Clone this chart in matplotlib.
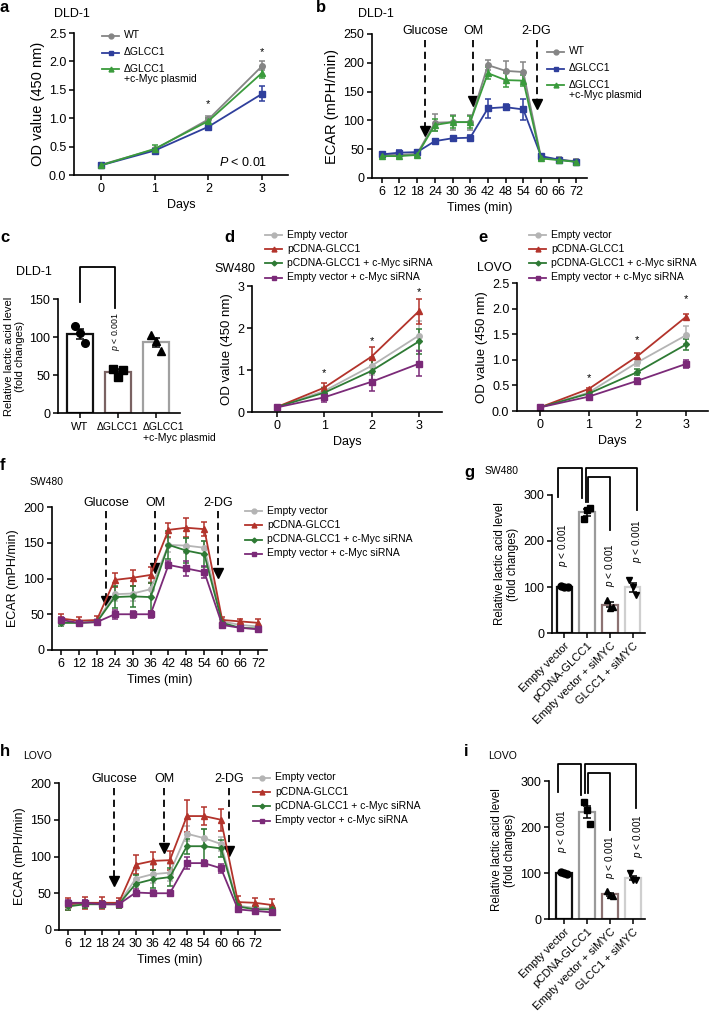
import numpy as np
import matplotlib
matplotlib.use('Agg')
import matplotlib.pyplot as plt

plt.rcParams['font.family'] = ['Liberation Sans', 'DejaVu Sans']
plt.rcParams['mathtext.fontset'] = 'custom'
plt.rcParams['mathtext.it'] = 'Liberation Sans:italic'
plt.rcParams['mathtext.rm'] = 'Liberation Sans'
plt.rcParams['font.size'] = 8

W, H = 710, 1014

# ---- panel a : DLD-1 growth
days = [0, 1, 2, 3]
a_wt = [0.18, 0.45, 0.98, 1.92]
a_wt_err = [0.03, 0.03, 0.05, 0.08]
a_ko = [0.17, 0.43, 0.85, 1.43]
a_ko_err = [0.03, 0.03, 0.04, 0.13]
a_myc = [0.17, 0.46, 0.95, 1.80]
a_myc_err = [0.04, 0.06, 0.06, 0.10]
a_labels = ['WT', '\u0394GLCC1', '\u0394GLCC1\n+c-Myc plasmid']

# ---- panel b : DLD-1 ECAR
b_time = [6, 12, 18, 24, 30, 36, 42, 48, 54, 60, 66, 72]
b_wt = [40, 40, 42, 96, 97, 97, 196, 186, 184, 36, 32, 29]
b_wt_err = [3, 3, 3, 15, 13, 13, 9, 17, 17, 4, 4, 4]
b_ko = [41, 44, 45, 64, 69, 70, 121, 123, 119, 38, 32, 28]
b_ko_err = [4, 4, 4, 3, 4, 4, 16, 5, 18, 3, 3, 3]
b_myc = [38, 38, 40, 92, 97, 97, 182, 170, 169, 34, 31, 28]
b_myc_err = [3, 3, 3, 10, 10, 10, 10, 12, 10, 3, 3, 3]

# ---- panel c : DLD-1 lactic acid
c_groups = ['WT', '\u0394GLCC1', '\u0394GLCC1\n+c-Myc plasmid']
c_pts = [[115, 105, 92], [58, 48, 57], [102, 95, 82]]

# ---- panels d, e : growth with siRNA
de_labels = ['Empty vector', 'pCDNA-GLCC1', 'pCDNA-GLCC1 + c-Myc siRNA',
             'Empty vector + c-Myc siRNA']
d_vals = [[0.12, 0.50, 1.10, 1.82], [0.12, 0.58, 1.32, 2.40],
          [0.12, 0.46, 0.98, 1.68], [0.11, 0.35, 0.72, 1.15]]
d_errs = [[0.02, 0.10, 0.22, 0.35], [0.02, 0.12, 0.22, 0.30],
          [0.02, 0.10, 0.25, 0.30], [0.02, 0.10, 0.22, 0.30]]
e_vals = [[0.07, 0.36, 0.95, 1.48], [0.07, 0.43, 1.07, 1.84],
          [0.07, 0.34, 0.76, 1.30], [0.07, 0.28, 0.59, 0.92]]
e_errs = [[0.01, 0.03, 0.08, 0.18], [0.01, 0.02, 0.06, 0.05],
          [0.01, 0.03, 0.06, 0.10], [0.01, 0.03, 0.05, 0.08]]

# ---- panel f : SW480 ECAR
f_time = [6, 12, 18, 24, 30, 36, 42, 48, 54, 60, 66, 72]
f_vals = [[38, 38, 40, 78, 79, 85, 147, 146, 143, 40, 35, 33],
          [44, 41, 42, 98, 101, 105, 168, 171, 169, 42, 40, 38],
          [38, 38, 39, 74, 75, 74, 147, 139, 134, 38, 31, 30],
          [42, 38, 39, 50, 50, 50, 119, 114, 109, 35, 31, 29]]
f_errs = [[4, 3, 3, 10, 10, 10, 10, 10, 10, 4, 3, 3],
          [6, 5, 5, 10, 11, 11, 10, 13, 10, 4, 4, 5],
          [4, 3, 3, 15, 15, 20, 20, 18, 18, 4, 3, 3],
          [4, 3, 3, 6, 5, 5, 5, 10, 8, 3, 3, 3]]

# ---- panel h : LOVO ECAR
h_time = [6, 12, 18, 24, 30, 36, 42, 48, 54, 60, 66, 72, 78]
h_ticks = [6, 12, 18, 24, 30, 36, 42, 48, 54, 60, 66, 72]
h_vals = [[33, 37, 36, 36, 70, 76, 78, 131, 125, 117, 33, 30, 29],
          [35, 37, 37, 37, 89, 94, 95, 155, 155, 150, 38, 37, 34],
          [32, 35, 35, 35, 63, 69, 72, 114, 114, 111, 32, 28, 28],
          [37, 37, 35, 35, 51, 50, 50, 91, 91, 84, 28, 26, 24]]
h_errs = [[4, 4, 4, 4, 12, 12, 12, 10, 12, 10, 4, 4, 4],
          [8, 8, 8, 7, 13, 12, 13, 22, 12, 15, 8, 7, 8],
          [5, 5, 5, 5, 12, 12, 12, 10, 23, 12, 4, 4, 4],
          [4, 4, 4, 4, 5, 4, 4, 8, 4, 6, 3, 3, 3]]

# ---- panels g, i : lactic acid
gi_groups = ['Empty vector', 'pCDNA-GLCC1', 'Empty vector + siMYC', 'GLCC1 + siMYC']
g_pts = [[103, 100, 99], [248, 268, 272], [72, 55, 56], [115, 100, 83]]
i_pts = [[103, 100, 98], [255, 236, 207], [60, 52, 50], [99, 85, 85]]

# colours / markers
dld_colors = ['#858585', '#2f3f9c', '#3a9b3c']
dld_markers = ['o', 's', '^']
si_colors = ['#b4b4b4', '#b3332b', '#2e7a34', '#7b2a78']
si_markers = ['o', '^', 'D', 's']
c_edges = ['#111111', '#7a6262', '#a0a0a0']
gi_edges = ['#111111', '#9a9a9a', '#8c7272', '#cfcfcf']
gi_markers = ['o', 's', '^', 'v']

fig = plt.figure(figsize=(W / 100, H / 100), dpi=100)


def add_ax(l, t, r, b):
    return fig.add_axes([l / W, 1 - b / H, (r - l) / W, (b - t) / H])


def style(ax, fs=9):
    for s in ['top', 'right']:
        ax.spines[s].set_visible(False)
    for s in ['left', 'bottom']:
        ax.spines[s].set_linewidth(1.2)
    ax.tick_params(width=1.1, length=3.5, labelsize=fs, pad=2)


def msize(m):
    # diamonds look heavier than the other markers
    return 3 if m == 'D' else 4


def lines(ax, x, vals, errs, colors, markers):
    for v, e, c, m in zip(vals, errs, colors, markers):
        ax.errorbar(x, v, yerr=e, color=c, marker=m, ms=msize(m), lw=1.3,
                    elinewidth=1.1, capsize=2.5, capthick=1.1, clip_on=False)


def arrow(ax, x, ytop, ytip, ylab, label):
    ax.plot([x, x], [ytop, ytip], ls=(0, (4, 2.5)), color='k', lw=1.3, clip_on=False)
    ax.plot([x], [ytip], marker='v', ms=6.5, color='k', clip_on=False)
    ax.text(x, ylab, label, ha='center', va='center', fontsize=9)


def bars(ax, pts, edges, markers, width, ms=5):
    x = np.arange(len(pts))
    for i, p in enumerate(pts):
        p = np.array(p)
        m = p.mean()
        se = p.std(ddof=1) / np.sqrt(len(p))
        ax.bar(x[i], m, width=width, facecolor='white', edgecolor=edges[i], lw=1.6, zorder=1)
        ax.errorbar(x[i], m, yerr=se, color='k', capsize=3, lw=1.1, capthick=1.1, zorder=3)
        ax.plot([x[i] - 0.14, x[i], x[i] + 0.14][:len(p)], p, ls='none', marker=markers[i],
                color='k', ms=ms, zorder=4, clip_on=False)


def bracket(ax, x0, x1, ytop, y0, y1):
    ax.plot([x0, x0, x1, x1], [y0, ytop, ytop, y1], color='k', lw=1.3, clip_on=False)


# overlay for labels / legends in pixel coords
ov = fig.add_axes([0, 0, 1, 1], zorder=10)
ov.set_xlim(0, W)
ov.set_ylim(H, 0)
ov.axis('off')
ov.patch.set_alpha(0)


def legend_px(x, y, dy, labels, colors, markers, fs=7.5, hl=17):
    for i, (lab, c, m) in enumerate(zip(labels, colors, markers)):
        yy = y + i * dy
        ov.plot([x, x + hl], [yy, yy], color=c, lw=1.3)
        ov.plot([x + hl / 2], [yy], marker=m, color=c, ms=msize(m) - 0.5)
        ov.text(x + hl + 5, yy - 5.5, lab, va='top', ha='left', fontsize=fs,
                linespacing=1.1)


def letter(x, y, s):
    ov.text(x, y, s, fontsize=12, fontweight='bold', va='center', ha='left')


def cell(x, y, s, fs=9):
    ov.text(x, y, s, fontsize=fs, va='center', ha='left')


# ---------------- a
ax = add_ax(74, 33, 288, 175)
style(ax)
lines(ax, days, [a_wt, a_ko, a_myc], [a_wt_err, a_ko_err, a_myc_err], dld_colors, dld_markers)
ax.set_xlim(-0.5, 3.48)
ax.set_ylim(0, 2.5)
ax.set_xticks(days)
ax.set_yticks([0, 0.5, 1.0, 1.5, 2.0, 2.5])
ax.set_yticklabels(['0.0', '0.5', '1.0', '1.5', '2.0', '2.5'])
ax.set_xlabel('Days', fontsize=9, labelpad=3)
ax.set_ylabel('OD value (450 nm)', fontsize=10.5, labelpad=3)
ax.text(2, 1.24, '*', ha='center', va='center', fontsize=8)
ax.text(3, 2.17, '*', ha='center', va='center', fontsize=8)
ax.text(2.2, 0.22, '$P$ < 0.01', fontsize=9, va='center')
letter(0, 8, 'a')
cell(54, 14, 'DLD-1')
legend_px(102, 36, 16.5, a_labels, dld_colors, dld_markers)

# ---------------- b
ax = add_ax(372, 34, 587, 178)
style(ax)
lines(ax, b_time, [b_wt, b_ko, b_myc], [b_wt_err, b_ko_err, b_myc_err], dld_colors, dld_markers)
ax.set_xlim(2.7, 75.6)
ax.set_ylim(0, 250)
ax.set_xticks(b_time)
ax.set_yticks(range(0, 251, 50))
ax.set_xlabel('Times (min)', fontsize=9, labelpad=3)
ax.set_ylabel('ECAR (mPH/min)', fontsize=10.5, labelpad=3)
arrow(ax, 20.7, 240, 82, 255, 'Glucose')
arrow(ax, 37.0, 240, 134, 255, 'OM')
arrow(ax, 58.5, 240, 129, 255, '2-DG')
letter(316, 8, 'b')
cell(358, 14, 'DLD-1')
legend_px(547, 52, 16.5, a_labels, dld_colors, dld_markers)

# ---------------- c
ax = add_ax(58, 299, 180, 413)
style(ax)
bars(ax, c_pts, c_edges, ['o', 's', '^'], 0.7, ms=5.5)
ax.set_xlim(-0.58, 2.63)
ax.set_ylim(0, 150)
ax.set_yticks([0, 50, 100, 150])
ax.set_xticks([0, 1, 2])
ax.set_xticklabels(['', '', ''])
ax.text(0, -12, 'WT', ha='center', va='top', fontsize=8)
ax.text(1, -12, '\u0394GLCC1', ha='center', va='top', fontsize=7.5)
ax.text(1.66, -12, '\u0394GLCC1\n+c-Myc plasmid', ha='left', va='top', fontsize=7.5,
        linespacing=1.1)
ax.set_ylabel('Relative lactic acid level\n(fold changes)', fontsize=8, labelpad=3,
              linespacing=1.1)
bracket(ax, 0, 0.92, 192, 146, 138)
ax.text(0.95, 107, '$p$ < 0.001', rotation=90, ha='center', va='center', fontsize=6.3)
letter(0, 238, 'c')
cell(16, 272, 'DLD-1')

# ---------------- d
ax = add_ax(252, 286, 442, 412)
style(ax)
lines(ax, days, d_vals, d_errs, si_colors, si_markers)
ax.set_xlim(-0.53, 3.49)
ax.set_ylim(0, 3)
ax.set_xticks(days)
ax.set_yticks([0, 1, 2, 3])
ax.set_xlabel('Days', fontsize=9, labelpad=3)
ax.set_ylabel('OD value (450 nm)', fontsize=9.5, labelpad=3)
for xx, yy in zip([1, 2, 3], [0.93, 1.68, 2.85]):
    ax.text(xx, yy, '*', ha='center', va='center', fontsize=8)
letter(224, 237, 'd')
cell(214, 269, 'SW480')
legend_px(265, 235, 14.2, de_labels, si_colors, si_markers)

# ---------------- e
ax = add_ax(517, 283, 708, 411)
style(ax)
lines(ax, days, e_vals, e_errs, si_colors, si_markers)
ax.set_xlim(-0.47, 3.45)
ax.set_ylim(0, 2.5)
ax.set_xticks(days)
ax.set_yticks([0, 0.5, 1.0, 1.5, 2.0, 2.5])
ax.set_yticklabels(['0.0', '0.5', '1.0', '1.5', '2.0', '2.5'])
ax.set_xlabel('Days', fontsize=9, labelpad=3)
ax.set_ylabel('OD value (450 nm)', fontsize=9.5, labelpad=3)
for xx, yy in zip([1, 2, 3], [0.64, 1.39, 2.18]):
    ax.text(xx, yy, '*', ha='center', va='center', fontsize=8)
letter(478, 237, 'e')
cell(477, 268, 'LOVO')
legend_px(529, 235, 14.2, de_labels, si_colors, si_markers)

# ---------------- f
ax = add_ax(52, 507, 267, 650)
style(ax)
lines(ax, f_time, f_vals, f_errs, si_colors, si_markers)
ax.set_xlim(2.98, 75)
ax.set_ylim(0, 200)
ax.set_xticks(f_time)
ax.set_yticks(range(0, 201, 50))
ax.set_xlabel('Times (min)', fontsize=9, labelpad=3)
ax.set_ylabel('ECAR (mPH/min)', fontsize=9, labelpad=3)
arrow(ax, 21.1, 195, 69, 206, 'Glucose')
arrow(ax, 37.5, 195, 114, 206, 'OM')
arrow(ax, 58.6, 195, 107, 206, '2-DG')
letter(0, 465, 'f')
cell(30, 482, 'SW480', fs=7.5)
legend_px(245, 511, 14.3, de_labels, si_colors, si_markers)

# ---------------- g
ax = add_ax(552, 495, 645, 633)
style(ax)
bars(ax, g_pts, gi_edges, gi_markers, 0.68)
ax.set_xlim(-0.55, 3.55)
ax.set_ylim(0, 300)
ax.set_yticks([0, 100, 200, 300])
ax.set_xticks(range(4))
ax.set_xticklabels(gi_groups, rotation=45, ha='right', rotation_mode='anchor', fontsize=8)
ax.set_ylabel('Relative lactic acid level\n(fold changes)', fontsize=8.3, labelpad=3,
              linespacing=1.1)
bracket(ax, -0.28, 0.77, 359, 296, 294)
bracket(ax, 0.94, 3.18, 359, 285, 267)
bracket(ax, 1.05, 2.0, 339, 285, 224)
ax.text(-0.08, 191, '$p$ < 0.001', rotation=90, ha='center', va='center', fontsize=7.2)
ax.text(2.0, 148, '$p$ < 0.001', rotation=90, ha='center', va='center', fontsize=7.2)
ax.text(3.2, 200, '$p$ < 0.001', rotation=90, ha='center', va='center', fontsize=7.2)
letter(464, 472, 'g')
cell(485, 471, 'SW480', fs=7.5)

# ---------------- h
ax = add_ax(59, 783, 280, 930)
style(ax)
lines(ax, h_time, h_vals, h_errs, si_colors, si_markers)
ax.set_xlim(2.93, 80.8)
ax.set_ylim(0, 200)
ax.set_xticks(h_ticks)
ax.set_yticks(range(0, 201, 50))
ax.set_xlabel('Times (min)', fontsize=9, labelpad=3)
ax.set_ylabel('ECAR (mPH/min)', fontsize=9, labelpad=3)
arrow(ax, 22.4, 193, 67, 205, 'Glucose')
arrow(ax, 40.0, 193, 112, 205, 'OM')
arrow(ax, 62.9, 193, 107, 205, '2-DG')
letter(0, 752, 'h')
cell(23, 756, 'LOVO', fs=7.5)
legend_px(253, 778, 14.2, de_labels, si_colors, si_markers)

# ---------------- i
ax = add_ax(549, 781, 645, 919)
style(ax)
bars(ax, i_pts, gi_edges, gi_markers, 0.68)
ax.set_xlim(-0.65, 3.52)
ax.set_ylim(0, 300)
ax.set_yticks([0, 100, 200, 300])
ax.set_xticks(range(4))
ax.set_xticklabels(gi_groups, rotation=45, ha='right', rotation_mode='anchor', fontsize=8)
ax.set_ylabel('Relative lactic acid level\n(fold changes)', fontsize=8.3, labelpad=3,
              linespacing=1.1)
bracket(ax, -0.25, 0.75, 337, 276, 270)
bracket(ax, 0.92, 3.15, 337, 274, 241)
bracket(ax, 1.05, 2.0, 317, 274, 193)
ax.text(-0.08, 191, '$p$ < 0.001', rotation=90, ha='center', va='center', fontsize=7.2)
ax.text(2.0, 135, '$p$ < 0.001', rotation=90, ha='center', va='center', fontsize=7.2)
ax.text(3.2, 180, '$p$ < 0.001', rotation=90, ha='center', va='center', fontsize=7.2)
letter(464, 752, 'i')
cell(488, 756, 'LOVO', fs=7.5)

fig.savefig('out.png', dpi=100)
